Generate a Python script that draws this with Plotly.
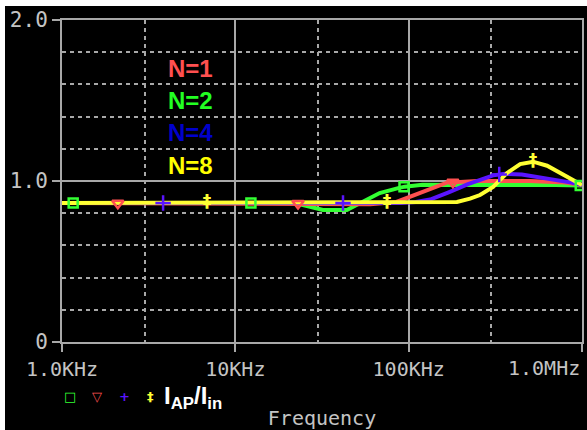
import numpy as np
import plotly.graph_objects as go

# Current ratio I_AP/I_in versus frequency for several stage counts N
freq_n1 = [1e3, 3e4, 6e4, 8.5e4, 1e5, 1.3e5, 1.66e5, 2.5e5, 5e5, 8e5, 1e6]
vals_n1 = [0.863, 0.86, 0.855, 0.87, 0.90, 0.947, 0.99, 1.0, 1.0, 0.99, 0.975]

freq_n2 = [1e3, 2.2e4, 2.7e4, 3.2e4, 4.4e4, 5.2e4, 6.8e4, 8.7e4, 9.5e4, 1.2e5, 3e5, 7e5, 1e6]
vals_n2 = [0.863, 0.863, 0.84, 0.82, 0.82, 0.86, 0.925, 0.956, 0.965, 0.977, 0.978, 0.975, 0.972]

freq_n4 = [1e3, 9e4, 1.1e5, 1.33e5, 1.7e5, 2.2e5, 3.07e5, 3.6e5, 4.5e5, 7e5, 8.7e5, 1e6]
vals_n4 = [0.863, 0.863, 0.87, 0.885, 0.93, 0.98, 1.035, 1.045, 1.04, 1.01, 0.99, 0.975]

freq_n8 = [1e3, 1.5e5, 1.9e5, 2.26e5, 2.58e5, 3.07e5, 3.7e5, 4.4e5, 5.22e5, 6.29e5, 7.78e5, 1e6]
vals_n8 = [0.863, 0.866, 0.87, 0.89, 0.913, 0.963, 1.05, 1.105, 1.12, 1.095, 1.04, 0.975]

# Frequencies at which each trace carries its symbol
marks_n2 = [1.16e3, 1.23e4, 9.4e4, 9.77e5]
marks_n1 = [2.1e3, 2.3e4, 1.8e5]
marks_n4 = [3.83e3, 4.18e4, 3.33e5]
marks_n8 = [6.87e3, 7.5e4, 5.22e5]

labels = ["N=1", "N=2", "N=4", "N=8"]
label_colors = ["#ff5050", "#22ff22", "#0000cc", "#ffff00"]
key_glyphs = ["\u25a1", "\u25bd", "+", "\u2021"]

x_ticks = [1e3, 1e4, 1e5, 1e6]
x_ticktext = ["1.0KHz", "10KHz", "100KHz", ""]
x_last_label = "1.0MHz"
x_minor = [3e3, 3e4, 3e5]
y_ticks = [0, 1, 2]
y_ticktext = ["0", "1.0", "2.0"]

GRAY = "#a8a8a8"
TEXT_GRAY = "#c4c4c4"
MONO = "DejaVu Sans Mono"

# plot area in pixels, used to place paper-referenced decorations
L, R, T, B = 62, 582, 20, 342
PW, PH = R - L, B - T


def px(x):
    return (x - L) / PW


def py(y):
    return (B - y) / PH


series = [
    (freq_n2, vals_n2, marks_n2, "#33ff33", "square-open", 9),
    (freq_n1, vals_n1, marks_n1, "#ff5050", "triangle-down-open", 10),
    (freq_n4, vals_n4, marks_n4, "#5a14ff", "cross-thin-open", 11),
    (freq_n8, vals_n8, marks_n8, "#ffff33", None, 17),
]

fig = go.Figure()
for f, v, m, col, sym, size in series:
    fig.add_trace(go.Scatter(
        x=f, y=v, mode="lines", showlegend=False,
        line=dict(color=col, width=4),
    ))
for f, v, m, col, sym, size in series:
    mv = np.interp(np.log10(m), np.log10(f), v)
    if sym is None:
        # double-dagger symbol for the N=8 trace
        fig.add_trace(go.Scatter(
            x=m, y=mv, mode="text", showlegend=False,
            text=["<b>\u2021</b>"] * len(m), textposition="middle center",
            textfont=dict(family="DejaVu Sans", size=size, color=col),
        ))
    else:
        fig.add_trace(go.Scatter(
            x=m, y=mv, mode="markers", showlegend=False,
            marker=dict(symbol=sym, size=size, color=col,
                        line=dict(color=col, width=2.5)),
        ))

# Stage-count labels inside the plot
label_y = [1.70, 1.503, 1.304, 1.099]
for txt, col, yy in zip(labels, label_colors, label_y):
    fig.add_annotation(
        x=px(190), y=yy, xref="paper", yref="y", text=f"<b>{txt}</b>",
        showarrow=False, xanchor="center", yanchor="middle",
        font=dict(family="Liberation Sans", size=24, color=col),
    )

# Last frequency label sits flush with the right frame
fig.add_annotation(
    x=6, y=py(368), xref="x", yref="paper", text=x_last_label,
    showarrow=False, xanchor="right", yanchor="middle",
    font=dict(family=MONO, size=20, color=TEXT_GRAY),
)

# Key row under the axis: trace symbols followed by the quantity name
key_x = [70, 97, 124, 150]
for g, (_, _, _, col, _, _), kx in zip(key_glyphs, series, key_x):
    fig.add_annotation(
        x=px(kx), y=py(396), xref="paper", yref="paper", text=f"<b>{g}</b>",
        showarrow=False, xanchor="center", yanchor="middle",
        font=dict(family="DejaVu Sans", size=13, color=col),
    )
fig.add_annotation(
    x=px(162), y=py(398), xref="paper", yref="paper",
    text="<b>I<sub>AP</sub>/I<sub>in</sub></b>", showarrow=False,
    xanchor="left", yanchor="middle",
    font=dict(family="Liberation Sans", size=24, color="white"),
)

# White edge strips along top and left of the frame
fig.add_shape(type="rect", xref="paper", yref="paper",
              x0=px(-10), x1=px(600), y0=py(6), y1=py(-10),
              fillcolor="white", line_width=0, layer="below")
fig.add_shape(type="rect", xref="paper", yref="paper",
              x0=px(-10), x1=px(5), y0=py(440), y1=py(-10),
              fillcolor="white", line_width=0, layer="below")

fig.update_xaxes(
    type="log", range=[3, 6], automargin=False,
    tickmode="array", tickvals=x_ticks, ticktext=x_ticktext,
    ticks="outside", ticklen=8, tickwidth=2, tickcolor=GRAY,
    tickfont=dict(family=MONO, size=20, color=TEXT_GRAY),
    showline=True, linecolor=GRAY, linewidth=2, mirror=True,
    showgrid=True, gridcolor=GRAY, gridwidth=2,
    minor=dict(tickmode="array", tickvals=x_minor, showgrid=True,
               gridcolor=GRAY, gridwidth=2, griddash="4px,4px", ticks=""),
    zeroline=False,
    title=dict(text="Frequency", font=dict(family=MONO, size=20, color=TEXT_GRAY), standoff=42),
)
fig.update_yaxes(
    range=[0, 2], automargin=False,
    tickmode="array", tickvals=y_ticks, ticktext=y_ticktext,
    ticks="outside", ticklen=8, tickwidth=2, tickcolor=GRAY,
    tickfont=dict(family=MONO, size=21, color=TEXT_GRAY),
    showline=True, linecolor=GRAY, linewidth=2, mirror=True,
    showgrid=True, gridcolor=GRAY, gridwidth=2,
    minor=dict(dtick=0.2, showgrid=True, gridcolor=GRAY, gridwidth=2,
               griddash="4px,4px", ticks=""),
    zeroline=False,
)

fig.update_layout(
    width=587, height=430,
    margin=dict(l=L, r=587 - R, t=T, b=430 - B),
    paper_bgcolor="black", plot_bgcolor="black",
    showlegend=False,
)

fig.write_html("out.html")
